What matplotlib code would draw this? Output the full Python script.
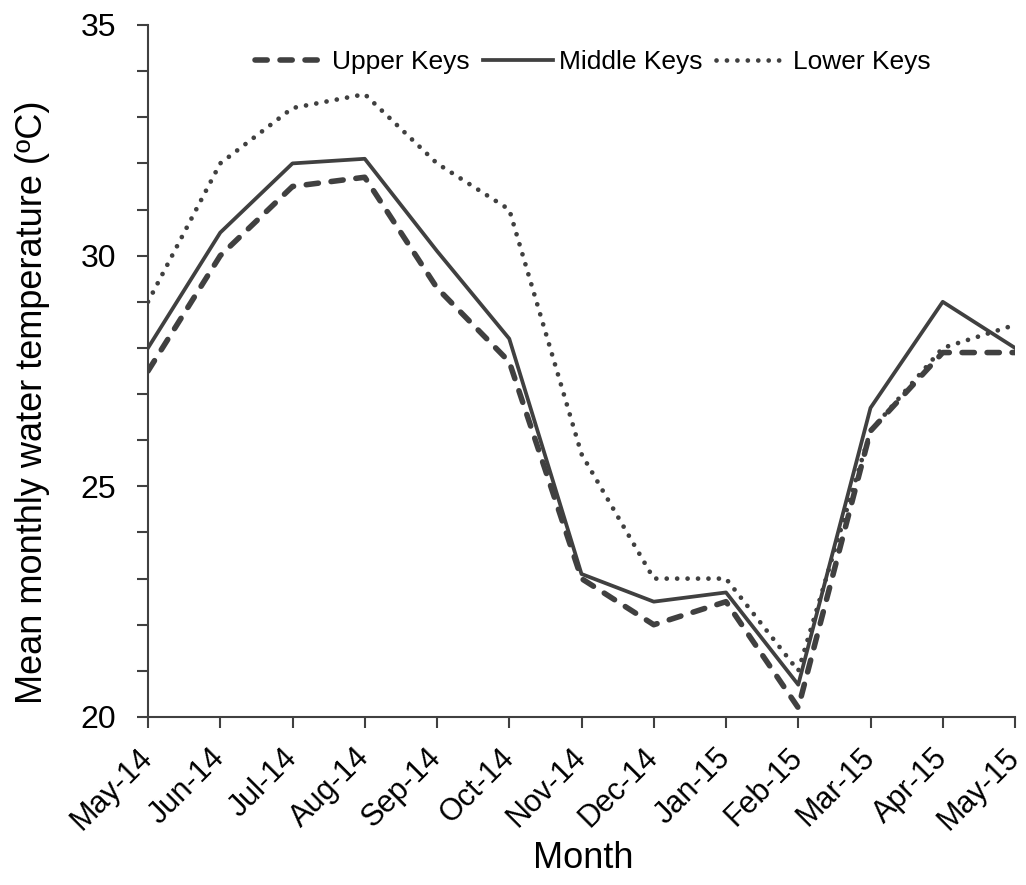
import matplotlib
matplotlib.use("Agg")
import matplotlib.pyplot as plt

months = ["May-14", "Jun-14", "Jul-14", "Aug-14", "Sep-14", "Oct-14", "Nov-14",
          "Dec-14", "Jan-15", "Feb-15", "Mar-15", "Apr-15", "May-15"]
upper_keys = [27.5, 30.0, 31.5, 31.7, 29.3, 27.7, 23.0, 22.0, 22.5, 20.2, 26.2, 27.9, 27.9]
middle_keys = [28.0, 30.5, 32.0, 32.1, 30.1, 28.2, 23.1, 22.5, 22.7, 20.7, 26.7, 29.0, 28.0]
lower_keys = [29.0, 32.0, 33.2, 33.5, 32.0, 31.0, 25.7, 23.0, 23.0, 21.0, 26.2, 28.0, 28.5]

plt.rcParams['font.family'] = ['Liberation Sans', 'DejaVu Sans']
col = '#404040'

fig = plt.figure(figsize=(10.26, 8.85), dpi=100)
ax = fig.add_axes([148/1026, 1-717/885, (1015-148)/1026, (717-25)/885])

x = list(range(len(months)))
ax.plot(x, upper_keys, color=col, lw=4.0, linestyle=(0, (2.2, 2.3)), dash_capstyle='round',
        label='Upper Keys')
ax.plot(x, middle_keys, color=col, lw=2.7, linestyle='-', label='Middle Keys')
ax.plot(x, lower_keys, color=col, lw=3.4, linestyle=(0, (0.01, 2.2)), dash_capstyle='round',
        label='Lower Keys')

ax.set_xlim(0, len(months)-1)
ax.set_ylim(20, 35)
ax.set_yticks([20, 25, 30, 35])
ax.set_yticks(range(20, 36), minor=True)
ax.set_xticks(x)
ax.set_xticklabels(months, rotation=45, ha='right', va='center', rotation_mode='anchor', fontsize=22)
ax.tick_params(axis='y', which='major', labelsize=23, direction='out', length=8, width=1.5, color=col, pad=15)
ax.tick_params(axis='y', which='minor', direction='out', length=8, width=1.5, color=col)
ax.tick_params(axis='x', direction='out', length=8, width=1.5, color=col, pad=18)
for s in ['top', 'right']:
    ax.spines[s].set_visible(False)
for s in ['left', 'bottom']:
    ax.spines[s].set_color(col)
    ax.spines[s].set_linewidth(1.5)
    ax.spines[s].set_clip_on(False)

ax.set_xlabel('Month', fontsize=26)
ax.xaxis.set_label_coords(0.502, -0.179)
ax.set_ylabel('Mean monthly water temperature (ºC)', fontsize=26)
ax.yaxis.set_label_coords(-0.113, 0.455)

leg = ax.legend(loc='center', bbox_to_anchor=(0.513, 0.9465), ncol=3, frameon=False,
                fontsize=19, handlelength=2.65, handletextpad=0.26, columnspacing=0.5,
                borderpad=0, borderaxespad=0)

fig.savefig('out.png', dpi=100)
